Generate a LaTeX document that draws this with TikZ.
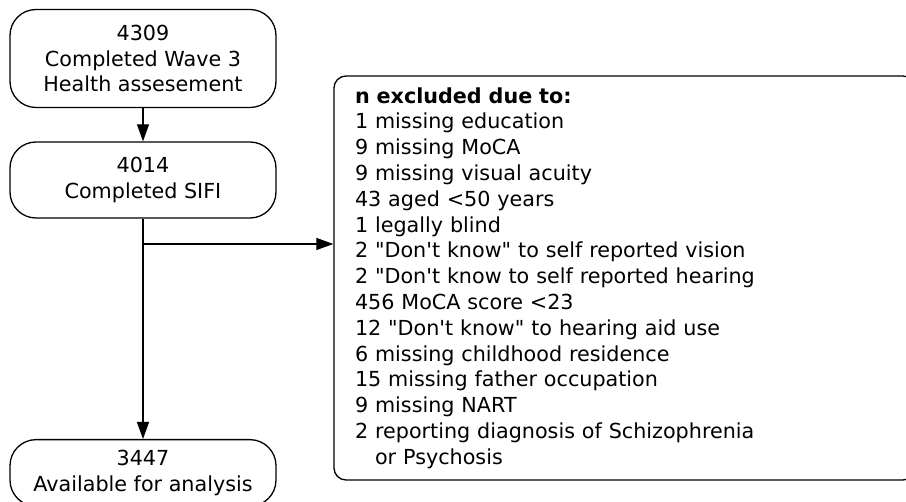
\documentclass[tikz,border=0pt]{standalone}
\usepackage{fontspec}
\setmainfont{DejaVu Sans}[Ligatures=TeXOff]
\usetikzlibrary{arrows.meta}
\newcommand{\diagfont}{\fontsize{20.7}{25.8}\selectfont}
\begin{document}
\begin{tikzpicture}[x=1pt,y=-1pt,
  flowbox/.style={draw, line width=1.3pt, rounded corners=26pt, align=center,
    font=\diagfont, inner sep=0pt, minimum width=266pt},
  exclbox/.style={draw, line width=1.3pt, rounded corners=12pt, align=left,
    font=\diagfont, inner xsep=21pt, inner ysep=0pt, text width=539pt,
    minimum height=404pt},
  arr/.style={-{Triangle[length=17pt,width=12pt]}, line width=1.2pt}]
\clip (0,0) rectangle (906,502);
\useasboundingbox (0,0) rectangle (906,502);
\node[flowbox, minimum height=98pt] (wave) at (143,58.5)
  {4309\\Completed Wave 3\\Health assesement};
\node[flowbox, minimum height=76pt] (sifi) at (143,180)
  {4014\\Completed SIFI};
\node[flowbox, anchor=north, inner ysep=10.5pt] (avail) at (143,439)
  {3447\\Available for analysis};
\node[exclbox] (excl) at (624.5,278)
  {\textbf{n excluded due to:}\\
   1 missing education\\
   9 missing MoCA\\
   9 missing visual acuity\\
   43 aged <50 years\\
   1 legally blind\\
   2 "Don't know" to self reported vision\\
   2 "Don't know to self reported hearing\\
   456 MoCA score <23\\
   12 "Don't know" to hearing aid use\\
   6 missing childhood residence\\
   15 missing father occupation\\
   9 missing NART\\
   2 reporting diagnosis of Schizophrenia\\
   \hphantom{2}\ or Psychosis};
\coordinate (branch) at (143,244);
\draw[arr] (wave.south) -- (sifi.north);
\draw[arr] (sifi.south) -- (avail.north);
\draw[arr] (branch) -- (branch -| excl.west);
\end{tikzpicture}
\end{document}
